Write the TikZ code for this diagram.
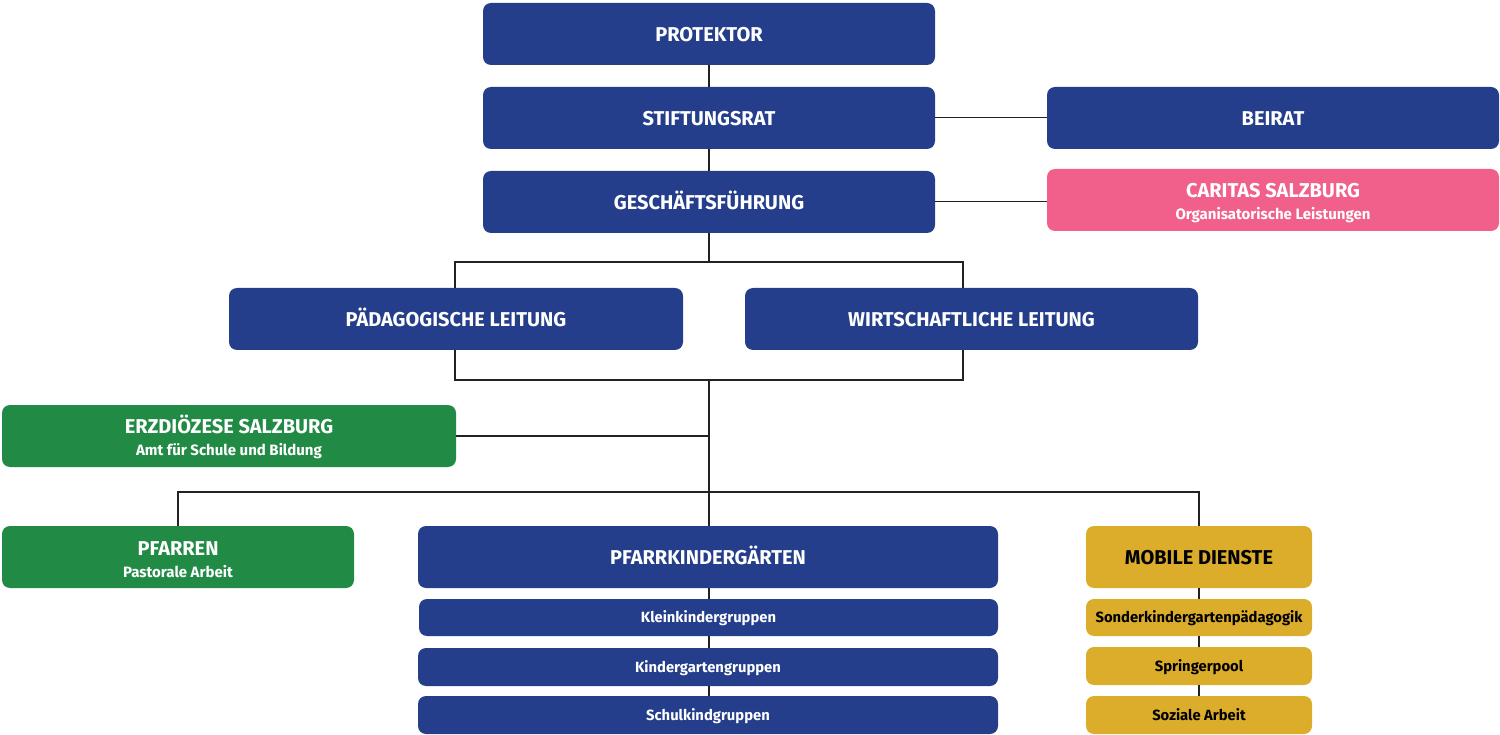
\documentclass[tikz,border=0pt]{standalone}
\usepackage{fontspec}
\setmainfont{Fira Sans}
\usetikzlibrary{calc}
\definecolor{cblue}{HTML}{243E8C}
\definecolor{cgreen}{HTML}{218B45}
\definecolor{cpink}{HTML}{F0608A}
\definecolor{cyellow}{HTML}{DBAD2A}
\definecolor{cline}{HTML}{222222}
\tikzset{
  box/.style={rectangle, rounded corners=8pt, inner sep=0pt, align=center, font=\fontsize{20}{23}\selectfont\bfseries},
  bluebox/.style={box, fill=cblue, text=white},
  greenbox/.style={box, fill=cgreen, text=white},
  pinkbox/.style={box, fill=cpink, text=white},
  yellowbox/.style={box, fill=cyellow, text=black},
  smallbox/.style={font=\fontsize{14.8}{17}\selectfont\bfseries},
  conn/.style={draw=cline, line width=1.6pt},
  thinconn/.style={draw=cline, line width=1pt}
}
\newcommand{\onel}[1]{\vphantom{Äg}#1}
\newcommand{\twol}[2]{\rule{0pt}{20pt}#1\\[-1pt]{\fontsize{15}{17}\selectfont #2}}
\begin{document}
\begin{tikzpicture}[x=1pt,y=-1pt]
\useasboundingbox (0,0) rectangle (1500,735);
\coordinate (j1) at (709,262);
\coordinate (j2) at (709,380);
\coordinate (j3) at (709,436);
\coordinate (j4) at (709,492);
\coordinate (l1) at (455,262);
\coordinate (r1) at (963,262);
\coordinate (l2) at (455,380);
\coordinate (r2) at (963,380);

\node[bluebox, minimum width=452pt, minimum height=62pt] (prot) at (709,34) {\onel{PROTEKTOR}};
\node[bluebox, minimum width=452pt, minimum height=62pt] (sr) at (709,118) {\onel{STIFTUNGSRAT}};
\node[bluebox, minimum width=452pt, minimum height=62pt] (gf) at (709,202) {\onel{GESCHÄFTSFÜHRUNG}};
\node[bluebox, minimum width=452pt, minimum height=62pt] (beirat) at (1273,118) {\onel{BEIRAT}};
\node[pinkbox, minimum width=452pt, minimum height=62pt] (caritas) at (1273,200) {\twol{CARITAS SALZBURG}{Organisatorische Leistungen}};
\node[bluebox, minimum width=454pt, minimum height=62pt] (pl) at (456,319) {\onel{PÄDAGOGISCHE LEITUNG}};
\node[bluebox, minimum width=453pt, minimum height=62pt] (wl) at (971.5,319) {\onel{WIRTSCHAFTLICHE LEITUNG}};
\node[greenbox, minimum width=454pt, minimum height=62pt] (ez) at (229,436) {\twol{ERZDIÖZESE SALZBURG}{Amt für Schule und Bildung}};
\node[greenbox, minimum width=352pt, minimum height=62pt] (pf) at (178,557) {\twol{PFARREN}{Pastorale Arbeit}};
\node[bluebox, minimum width=580pt, minimum height=62pt] (pk) at (708,557) {\onel{PFARRKINDERGÄRTEN}};
\node[bluebox, smallbox, minimum width=579pt, minimum height=37pt] (k1) at (708.5,617.5) {\onel{Kleinkindergruppen}};
\node[bluebox, smallbox, minimum width=580pt, minimum height=38pt] (k2) at (708,667) {\onel{Kindergartengruppen}};
\node[bluebox, smallbox, minimum width=580pt, minimum height=38pt] (k3) at (708,715) {\onel{Schulkindgruppen}};
\node[yellowbox, minimum width=226pt, minimum height=62pt] (md) at (1199,557) {\onel{MOBILE DIENSTE}};
\node[yellowbox, smallbox, minimum width=226pt, minimum height=37pt] (m1) at (1199,617.5) {\onel{Sonderkindergartenpädagogik}};
\node[yellowbox, smallbox, minimum width=226pt, minimum height=38pt] (m2) at (1199,666) {\onel{Springerpool}};
\node[yellowbox, smallbox, minimum width=226pt, minimum height=38pt] (m3) at (1199,715) {\onel{Soziale Arbeit}};

\draw[conn] (prot) -- (sr);
\draw[conn] (sr) -- (gf);
\draw[thinconn] (sr.east) -- (beirat.west |- sr.east);
\draw[thinconn] (gf.east) -- (caritas.west |- gf.east);
\draw[conn] (gf.south) -- (j1);
\draw[conn] (pl.north -| l1) -- (l1) -- (r1) -- (wl.north -| r1);
\draw[conn] (pl.south -| l2) -- (l2) -- (r2) -- (wl.south -| r2);
\draw[conn] (j2) -- (j4);
\draw[conn] (ez.east |- j3) -- (j3);
\draw[conn] (pf.north) |- (j4) -| (md.north);
\draw[conn] (j4) -- (pk.north -| j4);
\draw[conn] (pk.south -| j4) -- (k1.north -| j4);
\draw[conn] (k1.south -| j4) -- (k2.north -| j4);
\draw[conn] (k2.south -| j4) -- (k3.north -| j4);
\draw[conn] (md) -- (m1);
\draw[conn] (m1) -- (m2);
\draw[conn] (m2) -- (m3);
\end{tikzpicture}
\end{document}
